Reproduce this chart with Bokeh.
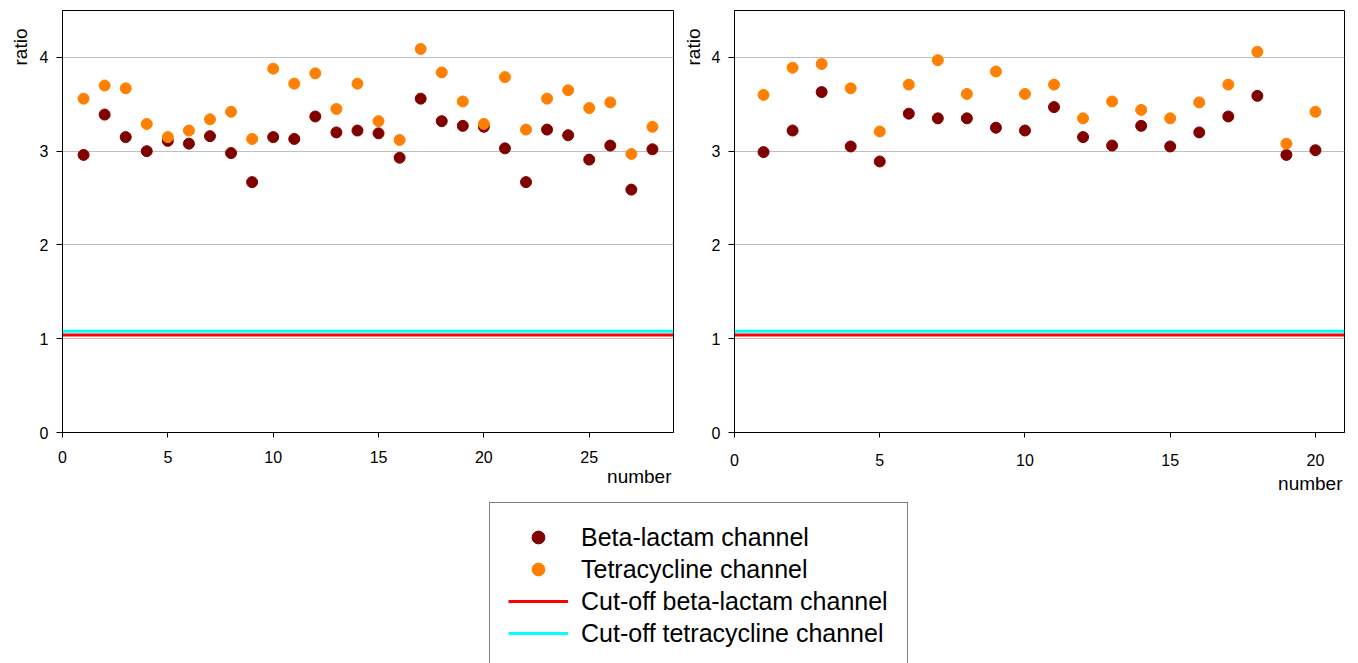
from math import pi, nan
from bokeh.plotting import figure
from bokeh.models import Span, Title, Legend, LegendItem, SingleIntervalTicker, Range1d
from bokeh.layouts import column, row
from bokeh.embed import file_html
from bokeh.resources import INLINE

# ---------------- data ----------------
left_number = list(range(1, 29))
left_beta = [2.96, 3.39, 3.15, 3.00, 3.11, 3.08, 3.16, 2.98, 2.67, 3.15, 3.13, 3.37, 3.20, 3.22,
             3.19, 2.93, 3.56, 3.32, 3.27, 3.26, 3.03, 2.67, 3.23, 3.17, 2.91, 3.06, 2.59, 3.02]
left_tetra = [3.56, 3.70, 3.67, 3.29, 3.15, 3.22, 3.34, 3.42, 3.13, 3.88, 3.72, 3.83, 3.45, 3.72,
              3.32, 3.12, 4.09, 3.84, 3.53, 3.29, 3.79, 3.23, 3.56, 3.65, 3.46, 3.52, 2.97, 3.26]

right_number = list(range(1, 21))
right_beta = [2.99, 3.22, 3.63, 3.05, 2.89, 3.40, 3.35, 3.35, 3.25, 3.22,
              3.47, 3.15, 3.06, 3.27, 3.05, 3.20, 3.37, 3.59, 2.96, 3.01]
right_tetra = [3.60, 3.89, 3.93, 3.67, 3.21, 3.71, 3.97, 3.61, 3.85, 3.61,
               3.71, 3.35, 3.53, 3.44, 3.35, 3.52, 3.71, 4.06, 3.08, 3.42]

cutoff_beta = 1.04
cutoff_tetra = 1.08

series_names = ["Beta-lactam channel", "Tetracycline channel",
                "Cut-off beta-lactam channel", "Cut-off tetracycline channel"]
x_label = "number"
y_label = "ratio"

# ---------------- style ----------------
FONT = "Liberation Sans"
BETA_COLOR = "#800000"
TETRA_COLOR = "#FF8000"
CUT_BETA_COLOR = "#FF0000"
CUT_TETRA_COLOR = "#00FFFF"
MARKER = 11


def make_panel(xs, beta, tetra, xmax, width, height, bl, br, bt, bb, xstandoff, num_standoff,
               ratio_standoff):
    p = figure(width=width, height=height, output_backend="svg", toolbar_location=None,
               x_range=Range1d(0, xmax), y_range=Range1d(0, 4.5),
               min_border_left=bl, min_border_right=br, min_border_top=bt, min_border_bottom=bb,
               background_fill_color="white", border_fill_color="white")
    p.outline_line_color = "black"
    p.outline_line_width = 1
    p.xgrid.grid_line_color = None
    p.ygrid.grid_line_color = "#c0c0c0"
    p.ygrid.grid_line_width = 1

    p.xaxis.ticker = SingleIntervalTicker(interval=5)
    p.yaxis.ticker = SingleIntervalTicker(interval=1)
    for ax in (p.xaxis, p.yaxis):
        ax.minor_tick_line_color = None
        ax.axis_line_color = "black"
        ax.major_tick_line_color = "black"
        ax.major_label_text_font = FONT
        ax.major_label_text_font_size = "16px"
        ax.major_label_text_color = "black"
        ax.major_tick_in = 0
    p.xaxis.major_tick_out = 5
    p.xaxis.major_label_standoff = xstandoff
    p.yaxis.major_tick_out = 6
    p.yaxis.major_label_standoff = 8

    p.add_layout(Span(location=cutoff_beta, dimension="width", line_color=CUT_BETA_COLOR, line_width=3))
    p.add_layout(Span(location=cutoff_tetra, dimension="width", line_color=CUT_TETRA_COLOR, line_width=3))

    p.scatter(xs, beta, size=MARKER, fill_color=BETA_COLOR, line_color=BETA_COLOR)
    p.scatter(xs, tetra, size=MARKER, fill_color=TETRA_COLOR, line_color=TETRA_COLOR)

    p.add_layout(Title(text=y_label, align="right", offset=18, standoff=ratio_standoff,
                       text_font=FONT, text_font_size="19px", text_font_style="normal",
                       text_color="black"), "left")
    p.add_layout(Title(text=x_label, align="right", offset=2, standoff=num_standoff,
                       text_font=FONT, text_font_size="19px", text_font_style="normal",
                       text_color="black"), "below")
    return p


p1 = make_panel(left_number, left_beta, left_tetra, 29, 675, 495, 62, 2, 7, 61, 13, -3, 12)
p2 = make_panel(right_number, right_beta, right_tetra, 21, 683, 495, 59, 14, 10, 59, 16, 4, 9)

# ---------------- legend ----------------
lf = figure(width=1358, height=168, output_backend="svg", toolbar_location=None,
            x_range=Range1d(0, 1), y_range=Range1d(0, 1),
            min_border_left=0, min_border_right=0, min_border_top=0, min_border_bottom=0,
            outline_line_color=None)
lf.axis.visible = False
lf.grid.grid_line_color = None
r1 = lf.scatter(x=[nan], y=[nan], fill_color=BETA_COLOR, line_color=BETA_COLOR)
r2 = lf.scatter(x=[nan], y=[nan], fill_color=TETRA_COLOR, line_color=TETRA_COLOR)
r3 = lf.line(x=[nan, nan], y=[nan, nan], line_color=CUT_BETA_COLOR, line_width=3)
r4 = lf.line(x=[nan, nan], y=[nan, nan], line_color=CUT_TETRA_COLOR, line_width=3)
legend = Legend(items=[LegendItem(label=series_names[0], renderers=[r1]),
                       LegendItem(label=series_names[1], renderers=[r2]),
                       LegendItem(label=series_names[2], renderers=[r3]),
                       LegendItem(label=series_names[3], renderers=[r4])],
                location=(489, -5), orientation="vertical",
                glyph_width=60, glyph_height=32, spacing=0, padding=18, margin=0,
                label_standoff=13, label_width=308,
                label_text_font=FONT, label_text_font_size="25px", label_text_color="black",
                border_line_color="black", border_line_width=1, background_fill_alpha=1)
lf.add_layout(legend, "center")

layout = column(row(p1, p2), lf)
open("out.html", "w").write(file_html(layout, INLINE))
